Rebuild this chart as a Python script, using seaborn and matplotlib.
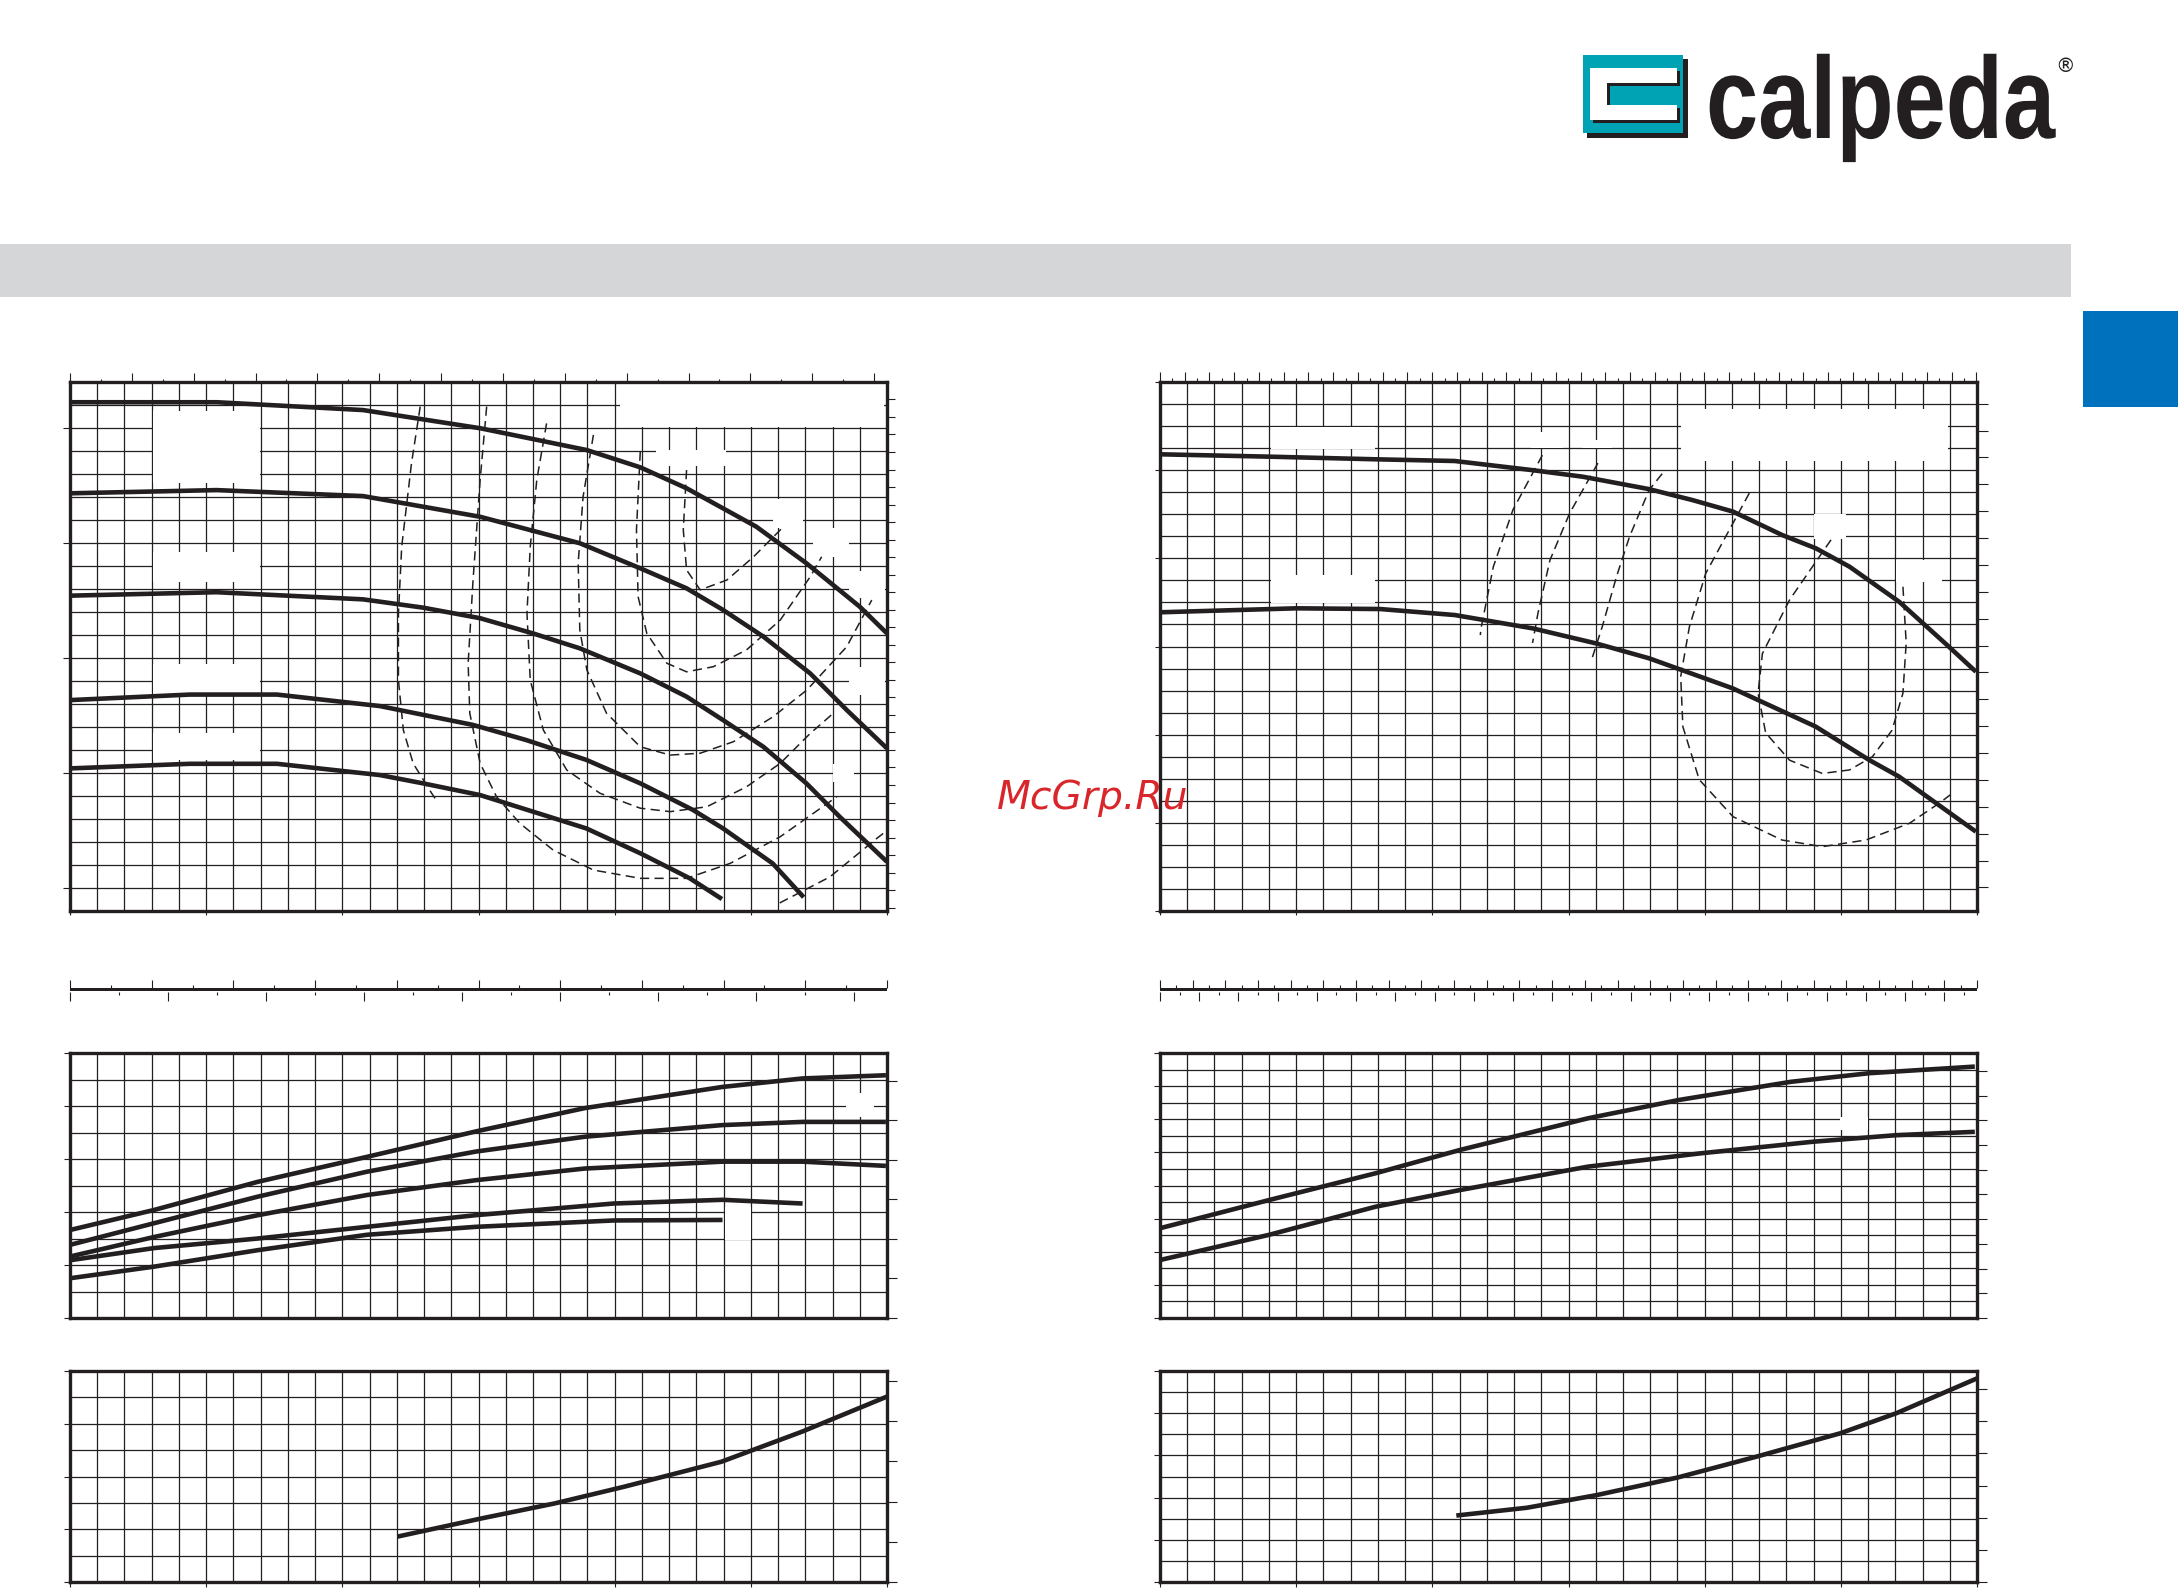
import matplotlib
matplotlib.use('Agg')
import matplotlib.pyplot as plt
import seaborn as sns
from matplotlib import patheffects
from matplotlib.transforms import Affine2D
from matplotlib.ticker import MultipleLocator, NullFormatter
from matplotlib.patches import Rectangle

sns.set_style('white')
plt.rcParams['font.family'] = ['DejaVu Sans']

INK = '#231f20'

# ---------------- left chart (Q m3/h, H m) ----------------
q_l1 = [0, 2.7, 5.38, 7.53, 9.49, 10.47, 11.32, 12.6, 13.52, 14.5, 15.0]
h_l1 = [31.12, 31.12, 30.78, 29.99, 29.04, 28.29, 27.38, 25.71, 24.12, 22.23, 21.07]
q_l2 = [0, 2.69, 5.38, 7.53, 9.36, 10.47, 11.32, 11.99, 12.73, 13.59, 14.26, 15.0]
h_l2 = [27.16, 27.3, 27.04, 26.14, 24.99, 23.9, 23.03, 22.09, 20.93, 19.33, 17.74, 16.07]
q_l3 = [0, 2.69, 5.38, 6.48, 7.53, 8.5, 9.36, 10.47, 11.32, 11.99, 12.73, 13.52, 14.13, 15.0]
h_l3 = [22.71, 22.86, 22.55, 22.19, 21.73, 21.07, 20.42, 19.33, 18.32, 17.3, 16.14, 14.55, 13.1, 11.14]
q_l4 = [0, 2.2, 3.8, 5.69, 7.4, 8.38, 9.48, 10.47, 11.44, 11.99, 12.9, 13.47]
h_l4 = [18.17, 18.41, 18.41, 17.91, 17.09, 16.43, 15.57, 14.55, 13.39, 12.59, 11.07, 9.6]
q_l5 = [0, 2.2, 3.8, 5.69, 6.48, 7.53, 8.5, 9.48, 10.47, 11.38, 11.97]
h_l5 = [15.2, 15.4, 15.4, 14.91, 14.55, 14.04, 13.32, 12.59, 11.51, 10.42, 9.52]

# iso-efficiency lines (left chart)
q_e1 = [6.43, 6.27, 6.09, 6.03, 6.03, 6.12, 6.30, 6.64, 6.73]
h_e1 = [30.93, 28.47, 24.84, 21.94, 19.04, 16.87, 15.42, 14.12, 13.80]
q_e1b = [13.03, 13.95, 14.82, 15.0]
h_e1b = [9.35, 10.48, 12.17, 12.5]
q_e2 = [7.65, 7.53, 7.40, 7.31, 7.34, 7.53, 7.83, 8.26, 8.87, 9.61, 10.47, 11.32, 12.12, 13.04, 14.08]
h_e2 = [30.93, 27.74, 23.39, 19.77, 17.60, 15.42, 13.97, 12.81, 11.65, 10.78, 10.42, 10.42, 11.07, 12.23, 13.97]
q_e3 = [8.75, 8.57, 8.45, 8.39, 8.45, 8.69, 9.12, 9.73, 10.47, 11.02, 11.69, 12.42, 13.04, 13.59, 14.05]
h_e3 = [30.2, 27.74, 24.84, 21.94, 19.04, 16.87, 15.13, 14.12, 13.47, 13.32, 13.53, 14.40, 15.42, 16.72, 17.67]
q_e4 = [9.61, 9.42, 9.33, 9.36, 9.49, 9.85, 10.47, 11.02, 11.57, 12.18, 12.91, 13.53, 14.26, 14.72]
h_e4 = [29.70, 27.01, 24.12, 21.22, 19.48, 17.60, 16.14, 15.78, 15.86, 16.36, 17.45, 18.61, 20.49, 22.52]
q_e5 = [10.47, 10.40, 10.43, 10.59, 10.96, 11.32, 11.81, 12.42, 13.04, 13.59, 13.80]
h_e5 = [28.97, 25.57, 22.67, 21.07, 19.77, 19.40, 19.62, 20.35, 21.65, 23.53, 24.40]
q_e6 = [11.32, 11.26, 11.32, 11.57, 12.06, 12.55, 13.10]
h_e6 = [28.17, 25.57, 23.83, 22.96, 23.39, 24.40, 25.71]

# power (kW) left
q_p = [0, 1.55, 3.45, 5.45, 7.45, 9.45, 11.98, 13.45, 14.98]
p_l1 = [1.66, 2.04, 2.57, 3.04, 3.52, 3.96, 4.36, 4.52, 4.58]
p_l2 = [1.38, 1.79, 2.29, 2.76, 3.14, 3.42, 3.64, 3.70, 3.70]
p_l3 = [1.16, 1.53, 1.94, 2.32, 2.60, 2.82, 2.95, 2.95, 2.87]
q_p4 = [0, 1.55, 3.45, 5.45, 7.45, 9.98, 11.98, 13.45]
p_l4 = [1.09, 1.32, 1.50, 1.72, 1.94, 2.16, 2.23, 2.16]
q_p5 = [0, 1.55, 3.45, 5.45, 7.45, 9.98, 11.98]
p_l5 = [0.75, 0.97, 1.28, 1.57, 1.72, 1.84, 1.85]

# NPSH left
q_n_l = [6.01, 7.53, 8.9, 10.17, 11.96, 13.44, 15.0]
n_l = [1.72, 2.40, 2.98, 3.61, 4.56, 5.70, 7.03]

# ---------------- right chart (Q m3/h, H m) ----------------
q_r1 = [0, 10.1, 19.9, 27.05, 34.2, 38.8, 44.9, 48.9, 52.6, 57.1, 60.2, 63.3, 67.85, 72.4, 74.9]
h_r1 = [91.8, 91.53, 91.23, 91.04, 90.0, 89.26, 87.85, 86.6, 85.3, 82.65, 81.14, 79.05, 75.08, 70.0, 67.14]
q_r2 = [0, 12.5, 20.2, 27.05, 34.2, 40.0, 44.9, 52.56, 60.2, 65.1, 67.85, 74.9]
h_r2 = [73.88, 74.33, 74.25, 73.57, 72.06, 70.36, 68.66, 65.26, 60.91, 57.13, 55.24, 49.0]

q_f1 = [35.1, 32.4, 30.6, 29.5, 29.4]
h_f1 = [91.7, 85.5, 79.05, 72.25, 71.3]
q_f2 = [40.2, 37.6, 35.8, 34.7, 34.2]
h_f2 = [90.8, 85.1, 79.8, 73.8, 70.4]
q_f3 = [46.1, 44.9, 43.1, 41.9, 40.6, 39.7]
h_f3 = [89.6, 87.75, 82.45, 77.9, 72.25, 68.8]
q_f4 = [54.1, 50.1, 48.6, 47.8, 48.0, 49.5, 52.6, 57.1, 60.8, 64.8, 68.8, 71.5, 72.9]
h_f4 = [87.4, 78.3, 72.25, 66.6, 60.9, 54.9, 50.7, 48.05, 47.3, 48.05, 49.95, 52.2, 53.5]
q_f5 = [61.6, 57.8, 55.3, 54.9, 55.6, 57.8, 60.8, 63.3, 65.4, 67.2, 68.2, 68.5, 68.2]
h_f5 = [82.1, 75.3, 69.2, 64.7, 60.2, 57.1, 55.6, 56.0, 57.5, 60.5, 64.7, 70.4, 76.8]

q_pr = [0, 10.0, 19.8, 27.5, 39.3, 47.6, 57.9, 65.1, 74.8]
p_r1 = [2.71, 3.56, 4.37, 5.07, 6.03, 6.58, 7.13, 7.39, 7.59]
q_pr2 = [0, 10.0, 19.8, 27.5, 39.3, 49.6, 59.9, 67.6, 74.8]
p_r2 = [1.75, 2.51, 3.36, 3.86, 4.57, 4.97, 5.32, 5.52, 5.62]

q_n_r = [27.2, 33.7, 40.1, 47.5, 54.75, 62.46, 67.6, 75.0]
n_r = [3.15, 3.52, 4.12, 4.95, 5.94, 7.05, 8.0, 9.65]

# erased label areas (Q0, y0, Q1, y1), one list per panel
blank_hq_left = [(1.52, 27.6, 3.48, 30.75), (1.52, 23.3, 3.48, 24.6), (1.52, 18.45, 3.48, 19.75),
                 (1.52, 15.55, 3.48, 16.75), (10.1, 30.05, 14.95, 31.9), (10.75, 28.35, 12.05, 29.05),
                 (12.9, 25.65, 13.45, 26.9), (13.65, 24.4, 14.3, 25.65), (14.3, 22.6, 14.97, 23.8),
                 (14.3, 18.4, 14.97, 19.6), (14.0, 14.6, 14.4, 15.4)]
blank_hq_right = [(10.2, 92.4, 19.7, 94.9), (10.2, 74.9, 19.7, 78.1), (47.8, 91.0, 72.3, 96.9),
                  (34.1, 92.5, 37.0, 94.3), (38.7, 92.5, 41.5, 93.4), (60.0, 82.2, 63.0, 85.0),
                  (67.6, 77.3, 71.8, 79.8)]
blank_p_left = [(14.25, 3.79, 14.76, 4.25), (12.03, 1.47, 12.5, 2.1)]
blank_p_right = [(57.6, 7.5, 59.9, 7.9), (62.4, 5.68, 65.0, 6.07)]

W, H = 2178, 1588
fig = plt.figure(figsize=(W / 100, H / 100), dpi=100)


class Stretch(patheffects.AbstractPathEffect):
    """Stretch a text vertically about its baseline (display pixels)."""

    def __init__(self, sy, y0):
        super().__init__()
        self.sy, self.y0 = sy, y0

    def draw_path(self, renderer, gc, tpath, affine, rgbFace=None):
        affine = affine + Affine2D().translate(0, -self.y0).scale(1, self.sy).translate(0, self.y0)
        renderer.draw_path(gc, tpath, affine, rgbFace)


# page decoration
deco = fig.add_axes([0, 0, 1, 1])
deco.set_xlim(0, W)
deco.set_ylim(H, 0)
deco.axis('off')
deco.add_patch(Rectangle((0, 244), 2071, 53, color='#d5d6d8', lw=0))
deco.add_patch(Rectangle((2083, 311), 95, 96, color='#0071bc', lw=0))
# logo
deco.add_patch(Rectangle((1587, 59), 101, 79, color=INK, lw=0))
deco.add_patch(Rectangle((1583, 55), 100, 78, color='#00a3b4', lw=0))
for dx, c in [(3, INK), (0, 'white')]:
    deco.add_patch(Rectangle((1590 + dx, 68 + dx), 87, 15, color=c, lw=0))
    deco.add_patch(Rectangle((1590 + dx, 105 + dx), 87, 15, color=c, lw=0))
    deco.add_patch(Rectangle((1590 + dx, 68 + dx), 17, 52, color=c, lw=0))
deco.text(1706, 138, 'calpeda', fontsize=67.5, fontweight='bold', color=INK,
          family='Liberation Sans', ha='left', va='baseline',
          path_effects=[Stretch(1.24, H - 138)])
deco.text(2055, 57, '\u00ae', fontsize=14, color=INK, ha='left', va='top')


def panel(px, py, pw, ph, xlim, ylim, xgrid, ygrid):
    ax = fig.add_axes([px / W, 1 - (py + ph) / H, pw / W, ph / H])
    ax.set_xlim(*xlim)
    ax.set_ylim(*ylim)
    ax.set_axisbelow(True)
    ax.xaxis.set_minor_locator(MultipleLocator(xgrid))
    ax.yaxis.set_minor_locator(MultipleLocator(ygrid))
    ax.grid(which='both', color=INK, lw=0.9)
    ax.tick_params(which='minor', length=0)
    ax.tick_params(which='major', color=INK, width=0.8, direction='out',
                   labelleft=False, labelbottom=False, top=False, right=False)
    for s in ax.spines.values():
        s.set_linewidth(2.4)
        s.set_color(INK)
    ax.set_xlabel('')
    ax.set_ylabel('')
    return ax


def sec_ticks(ax, where, fwd, inv, major, minor, lmaj, lmin=2.5):
    if where in ('top', 'bottom'):
        s = ax.secondary_xaxis(where, functions=(fwd, inv))
        axis = s.xaxis
    else:
        s = ax.secondary_yaxis(where, functions=(fwd, inv))
        axis = s.yaxis
    axis.set_major_locator(MultipleLocator(major))
    axis.set_major_formatter(NullFormatter())
    if minor:
        axis.set_minor_locator(MultipleLocator(minor))
        axis.set_minor_formatter(NullFormatter())
    s.tick_params(which='major', length=lmaj, width=0.8, color=INK, direction='out')
    s.tick_params(which='minor', length=lmin, width=0.8, color=INK, direction='out')
    for sp in s.spines.values():
        sp.set_visible(False)
    return s


def curve(ax, q, v, lw=3.3, dashed=False):
    kw = dict(linestyle=(0, (6, 3.5))) if dashed else dict(solid_capstyle='butt')
    sns.lineplot(x=q, y=v, ax=ax, color=INK, lw=1.1 if dashed else lw,
                 sort=False, estimator=None, zorder=3, **kw)
    ax.set_xlabel('')
    ax.set_ylabel('')


def blanks(ax, boxes):
    for q0, h0, q1, h1 in boxes:
        ax.add_patch(Rectangle((q0, h0), q1 - q0, h1 - h0, facecolor='white',
                               edgecolor='none', zorder=1))


gpm = (lambda q: q * 4.40287, lambda g: g / 4.40287)
lmin = (lambda q: q * 1000 / 60, lambda l: l * 60 / 1000)
lsec = (lambda q: q / 3.6, lambda l: l * 3.6)
feet = (lambda m: m / 0.3048, lambda f: f * 0.3048)
hp = (lambda k: k / 0.7457, lambda h: h * 0.7457)

for side in ('left', 'right'):
    if side == 'left':
        X, QMAX = 70, 15
    else:
        X, QMAX = 1160, 75
    PW = 817

    # ---- H-Q ----
    if side == 'left':
        ax = panel(X, 382, PW, 529, (0, QMAX), (9, 32), 0.5, 1)
        ax.xaxis.set_major_locator(MultipleLocator(2.5))
        ax.yaxis.set_major_locator(MultipleLocator(5))
        ax.tick_params(axis='y', length=4.8)
        ax.tick_params(axis='x', length=3.2)
        sec_ticks(ax, 'top', *gpm, 5, 2.5, 6.5)
        sec_ticks(ax, 'right', *feet, 2.5, None, 5.5)
        blanks(ax, blank_hq_left)
        for q, h in [(q_l1, h_l1), (q_l2, h_l2), (q_l3, h_l3), (q_l4, h_l4), (q_l5, h_l5)]:
            curve(ax, q, h)
        for q, h in [(q_e1, h_e1), (q_e1b, h_e1b), (q_e2, h_e2), (q_e3, h_e3),
                     (q_e4, h_e4), (q_e5, h_e5), (q_e6, h_e6)]:
            curve(ax, q, h, dashed=True)
    else:
        ax = panel(X, 382, PW, 529, (0, QMAX), (40, 100), 2.5, 2.5)
        ax.xaxis.set_major_locator(MultipleLocator(12.5))
        ax.yaxis.set_major_locator(MultipleLocator(10))
        ax.tick_params(axis='y', length=3.6)
        ax.tick_params(axis='x', length=3.2)
        sec_ticks(ax, 'top', *gpm, 10, 5, 7, 3)
        sec_ticks(ax, 'right', *feet, 10, None, 8)
        blanks(ax, blank_hq_right)
        for q, h in [(q_r1, h_r1), (q_r2, h_r2)]:
            curve(ax, q, h)
        for q, h in [(q_f1, h_f1), (q_f2, h_f2), (q_f3, h_f3), (q_f4, h_f4), (q_f5, h_f5)]:
            curve(ax, q, h, dashed=True)
    ax.tick_params(bottom=True, left=True)

    # ---- flow scale bar ----
    bar = fig.add_axes([X / W, 1 - 991.5 / H, PW / W, 3.5 / H])
    bar.set_xlim(0, QMAX)
    bar.set_facecolor(INK)
    bar.set_xticks([])
    bar.set_yticks([])
    for sp in bar.spines.values():
        sp.set_visible(False)
    if side == 'left':
        sec_ticks(bar, 'top', *lmin, 25, 12.5, 5.8)
        sec_ticks(bar, 'bottom', *lsec, 0.5, 0.25, 6.5)
    else:
        sec_ticks(bar, 'top', *lmin, 50, 25, 5.8)
        sec_ticks(bar, 'bottom', *lsec, 1, 0.5, 6.5)

    # ---- power ----
    if side == 'left':
        ax = panel(X, 1053, PW, 265, (0, QMAX), (0, 5), 0.5, 0.5)
        ax.yaxis.set_major_locator(MultipleLocator(1))
        blanks(ax, blank_p_left)
        for q, p in [(q_p, p_l1), (q_p, p_l2), (q_p, p_l3), (q_p4, p_l4), (q_p5, p_l5)]:
            curve(ax, q, p)
    else:
        ax = panel(X, 1053, PW, 265, (0, QMAX), (0, 8), 2.5, 0.5)
        ax.yaxis.set_major_locator(MultipleLocator(1))
        blanks(ax, blank_p_right)
        for q, p in [(q_pr, p_r1), (q_pr2, p_r2)]:
            curve(ax, q, p)
    ax.xaxis.set_major_locator(MultipleLocator(5 * (0.5 if side == 'left' else 2.5)))
    ax.tick_params(axis='y', left=True, length=4.3)
    sec_ticks(ax, 'right', *hp, 1, None, 7.5)

    # ---- NPSH ----
    if side == 'left':
        ax = panel(X, 1371, PW, 211, (0, QMAX), (0, 8), 0.5, 1)
        ax.xaxis.set_major_locator(MultipleLocator(2.5))
        curve(ax, q_n_l, n_l)
    else:
        ax = panel(X, 1371, PW, 211, (0, QMAX), (0, 10), 2.5, 1)
        ax.xaxis.set_major_locator(MultipleLocator(12.5))
        curve(ax, q_n_r, n_r)
    ax.yaxis.set_major_locator(MultipleLocator(2))
    ax.tick_params(axis='y', left=True, length=4.3)
    ax.tick_params(axis='x', bottom=True, length=3.6)
    sec_ticks(ax, 'right', *feet, 5, None, 7.2)

fig.text(997 / W, 1 - 809 / H, 'McGrp.Ru', fontsize=28.3, style='italic', color='#d9262b',
         family='DejaVu Sans', ha='left', va='baseline', zorder=10)

fig.savefig('out.png', dpi=100)
